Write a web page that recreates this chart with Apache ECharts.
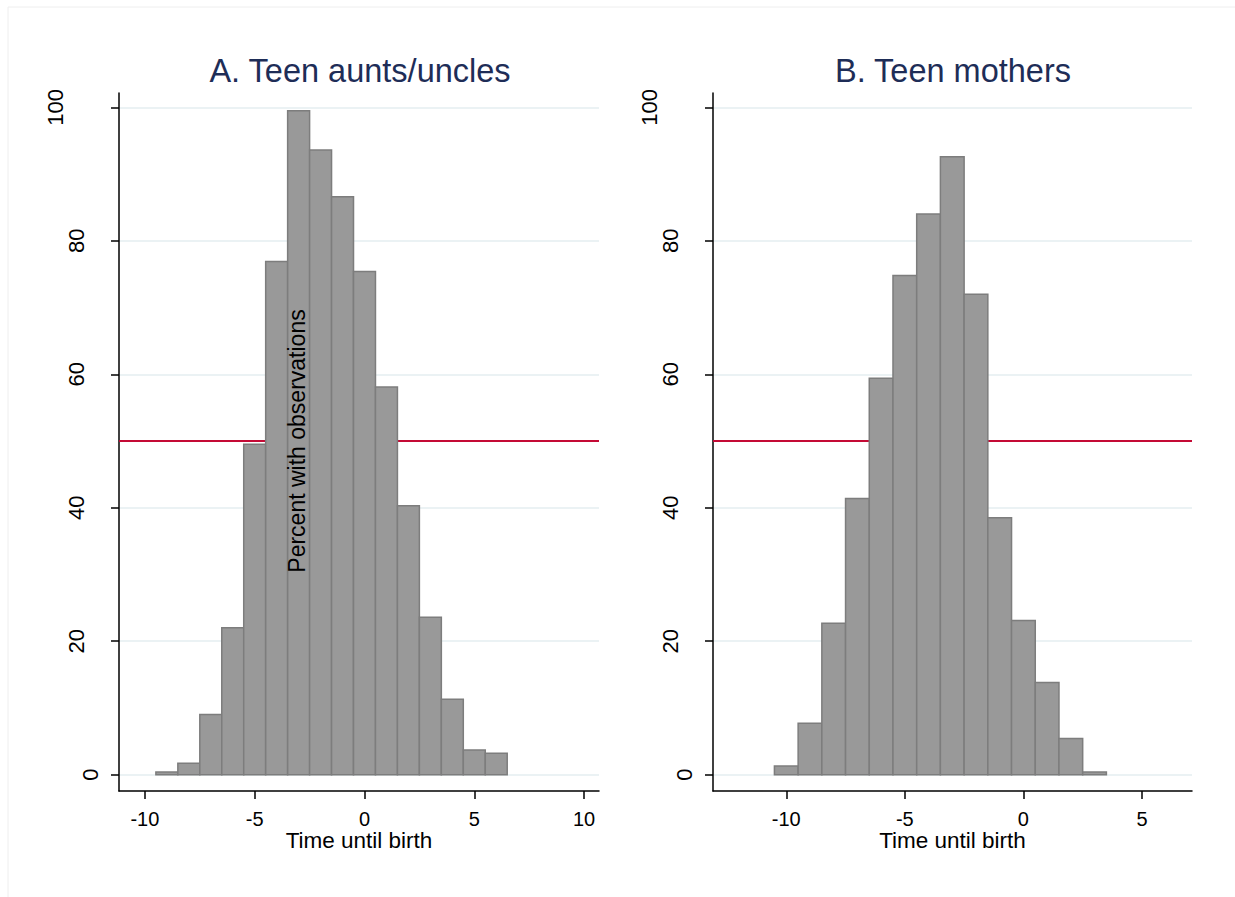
<!DOCTYPE html>
<html><head><meta charset="utf-8">
<script src="https://cdn.jsdelivr.net/npm/echarts@6/dist/echarts.min.js"></script>
<style>html,body{margin:0;padding:0;background:#fff}#c{width:1235px;height:897px}</style>
</head><body><div id="c"></div>
<script>
const binWidth = 1;
const auntBins = [-9,-8,-7,-6,-5,-4,-3,-2,-1,0,1,2,3,4,5,6];
const auntPct = [0.4,1.7,9.0,22.0,49.5,76.9,99.5,93.6,86.6,75.4,58.1,40.3,23.6,11.3,3.7,3.2];
const motherBins = [-10,-9,-8,-7,-6,-5,-4,-3,-2,-1,0,1,2,3];
const motherPct = [1.3,7.7,22.7,41.4,59.4,74.8,84.0,92.6,72.0,38.5,23.1,13.8,5.4,0.4];
const xTicksA = [-10,-5,0,5,10];
const xTicksB = [-10,-5,0,5];
const yTicks = [0,20,40,60,80,100];
const refLine = 50;
const titles = ['A. Teen aunts/uncles','B. Teen mothers'];
const xName = 'Time until birth';
const yName = 'Percent with observations';

const FONT = '"Liberation Sans", Arial, Helvetica, sans-serif';

function pairs(xs, ys){ return xs.map((x,i)=>[x, ys[i]]); }

function renderBar(params, api){
  const x = api.value(0), v = api.value(1);
  const p0 = api.coord([x - binWidth/2, v]);
  const p1 = api.coord([x + binWidth/2, 0]);
  return {type:'rect', shape:{x:p0[0], y:p0[1], width:p1[0]-p0[0], height:p1[1]-p0[1]},
    style:{fill:'#999999', stroke:'#7d7d7d', lineWidth:1.5}};
}

function makeX(gi, min, max, ticks){
  return {type:'value', gridIndex:gi, min:min, max:max,
    axisLine:{show:true, onZero:false, lineStyle:{color:'#000', width:1.5}},
    axisTick:{show:true, length:8, customValues:ticks, lineStyle:{color:'#000', width:1.5}},
    axisLabel:{customValues:ticks, fontSize:20, color:'#000', margin:18, fontFamily:FONT},
    splitLine:{show:false},
    name:xName, nameLocation:'middle', nameGap:38, nameMoveOverlap:false,
    nameTextStyle:{fontSize:22.5, color:'#000', fontFamily:FONT}
  };
}
function makeY(gi){
  return {type:'value', gridIndex:gi, min:-2.45, max:102.15,
    axisLine:{show:true, onZero:false, lineStyle:{color:'#000', width:1.5}},
    axisTick:{show:true, length:8, customValues:yTicks, lineStyle:{color:'#000', width:1.5}},
    axisLabel:{customValues:yTicks, rotate:90, margin:17.5, color:'#000', fontFamily:FONT, fontSize:22,
      formatter: v => '{c' + String(v).length + '|' + v + '}',
      rich:{
        c1:{fontSize:22, fontFamily:FONT, color:'#000', padding:[0,0,0,0]},
        c2:{fontSize:22, fontFamily:FONT, color:'#000', padding:[0,0,14.5,0]},
        c3:{fontSize:22, fontFamily:FONT, color:'#000', padding:[0,0,35.5,0]}
      }},
    splitLine:{show:true, lineStyle:{color:'#e5eef1', width:1.5}}
  };
}

function makeSeries(gi, data){
  return {type:'custom', xAxisIndex:gi, yAxisIndex:gi, z:10, renderItem:renderBar,
    encode:{x:0, y:1}, data:data, silent:true,
    markLine:{silent:true, symbol:'none', z:3, label:{show:false},
      lineStyle:{color:'#c40a35', width:2, type:'solid'}, data:[{yAxis:refLine}]}};
}

const chart = echarts.init(document.getElementById('c'), null, {renderer:'svg'});
chart.setOption({
  animation:false,
  backgroundColor:'#ffffff',
  textStyle:{fontFamily:FONT},
  title:[
    {text:titles[0], left:355, textAlign:'center', top:49, textStyle:{fontSize:32.5, fontWeight:'normal', color:'#1e2d57', fontFamily:FONT}},
    {text:titles[1], left:948, textAlign:'center', top:49, textStyle:{fontSize:32.5, fontWeight:'normal', color:'#1e2d57', fontFamily:FONT}}
  ],
  grid:[
    {left:119, top:93, width:480, height:698, outerBoundsMode:'none', containLabel:false},
    {left:713, top:93, width:479, height:698, outerBoundsMode:'none', containLabel:false}
  ],
  xAxis:[ makeX(0, -11.18, 10.68, xTicksA), makeX(1, -13.09, 7.11, xTicksB) ],
  yAxis:[ makeY(0), makeY(1) ],
  series:[ makeSeries(0, pairs(auntBins, auntPct)), makeSeries(1, pairs(motherBins, motherPct)) ],
  graphic:[
    {type:'rect', silent:true, z:-10, shape:{x:8, y:7, width:1240, height:900},
      style:{fill:'none', stroke:'#eeeeee', lineWidth:1}},
    {type:'text', silent:true, z:50, x:297, y:441, rotation:Math.PI/2,
      style:{text:yName, fill:'#000', font:'23px ' + FONT, align:'center', verticalAlign:'middle'}}
  ]
});
</script></body></html>
